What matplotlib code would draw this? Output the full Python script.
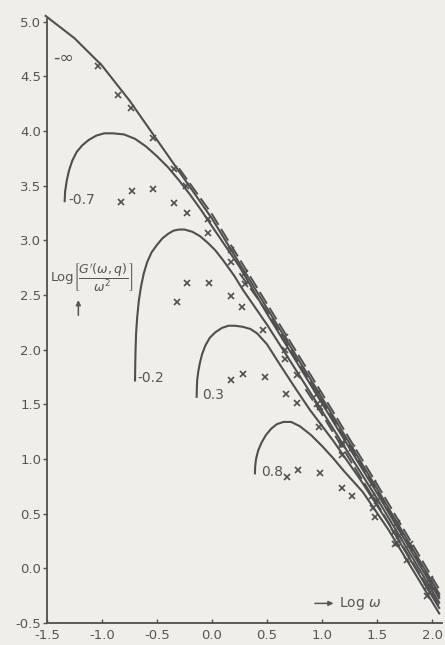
import numpy as np
import matplotlib
matplotlib.use("Agg")
import matplotlib.pyplot as plt

# ---- theoretical curves: Log[G'(w,q)/w^2] vs Log w ----
inf_x = [-1.52, -1.25, -1.0, -0.75, -0.5, -0.25, 0.0, 0.5, 1.0, 1.5, 2.07]
inf_y = [5.06, 4.85, 4.60, 4.28, 3.92, 3.56, 3.20, 2.38, 1.56, 0.73, -0.24]

m07_x = [-1.34, -1.335, -1.32, -1.30, -1.27, -1.23, -1.18, -1.12, -1.05, -0.98, -0.9,
         -0.8, -0.7, -0.6, -0.5, -0.4, -0.3, -0.2, -0.1, 0.0, 0.25, 0.5, 1.0, 1.5, 2.07]
m07_y = [3.35, 3.45, 3.55, 3.64, 3.73, 3.81, 3.87, 3.92, 3.96, 3.98, 3.98,
         3.97, 3.93, 3.86, 3.77, 3.67, 3.55, 3.42, 3.28, 3.13, 2.76, 2.33, 1.51, 0.69, -0.28]

m02_x = [-0.70, -0.698, -0.695, -0.69, -0.68, -0.665, -0.645, -0.62, -0.59, -0.55, -0.5,
         -0.45, -0.4, -0.35, -0.3, -0.25, -0.18, -0.11, -0.04, 0.03, 0.1, 0.2, 0.28,
         0.5, 1.0, 1.5, 2.07]
m02_y = [1.71, 1.85, 2.00, 2.15, 2.30, 2.45, 2.58, 2.70, 2.80, 2.89, 2.96,
         3.02, 3.06, 3.09, 3.10, 3.10, 3.08, 3.04, 2.98, 2.91, 2.82, 2.68, 2.55,
         2.23, 1.44, 0.64, -0.32]

p03_x = [-0.14, -0.138, -0.135, -0.125, -0.11, -0.09, -0.06, -0.02, 0.03, 0.09, 0.15,
         0.21, 0.28, 0.35, 0.41, 0.5, 0.62, 0.75, 0.89, 1.1, 1.35, 1.6, 2.07]
p03_y = [1.56, 1.64, 1.72, 1.80, 1.88, 1.96, 2.04, 2.11, 2.16, 2.20, 2.22,
         2.22, 2.21, 2.19, 2.15, 2.05, 1.86, 1.66, 1.45, 1.17, 0.81, 0.42, -0.37]

p08_x = [0.39, 0.392, 0.40, 0.42, 0.45, 0.49, 0.54, 0.59, 0.65, 0.72, 0.8,
         0.9, 1.0, 1.1, 1.2, 1.37, 1.6, 2.07]
p08_y = [0.86, 0.93, 1.00, 1.08, 1.15, 1.22, 1.28, 1.32, 1.34, 1.34, 1.30,
         1.22, 1.12, 1.01, 0.89, 0.70, 0.36, -0.42]

# ---- broken (dashed) curves in the high-frequency bundle ----
dashA_x = [-0.30, 0.0, 0.5, 1.0, 1.5, 2.07]
dashA_y = [3.66, 3.24, 2.42, 1.60, 0.77, -0.20]
dashB_x = [0.25, 0.5, 1.0, 1.5, 2.07]
dashB_y = [2.70, 2.35, 1.53, 0.71, -0.26]
dashC_x = [0.85, 1.0, 1.5, 2.07]
dashC_y = [1.64, 1.41, 0.59, -0.35]

# ---- measured points (crosses) ----
xinf_x = [-1.04, -0.85, -0.74, -0.54, -0.35, -0.24, -0.04, 0.17, 0.30, 0.66, 0.95, 1.27, 1.46, 1.68, 1.80, 1.98]
xinf_y = [4.60, 4.33, 4.21, 3.94, 3.65, 3.50, 3.20, 2.91, 2.70, 2.12, 1.60, 1.10, 0.78, 0.42, 0.22, -0.10]

xm07_x = [-0.83, -0.73, -0.54, -0.35, -0.23, -0.04, 0.17, 0.30, 0.66, 0.98, 1.18, 1.50, 1.70, 1.98]
xm07_y = [3.35, 3.45, 3.47, 3.34, 3.25, 3.07, 2.80, 2.60, 2.00, 1.48, 1.15, 0.62, 0.30, -0.16]

xm02_x = [-0.32, -0.23, -0.03, 0.17, 0.27, 0.46, 0.66, 0.77, 0.95, 1.18, 1.45, 1.65, 1.95]
xm02_y = [2.44, 2.61, 2.61, 2.49, 2.39, 2.18, 1.92, 1.77, 1.50, 1.13, 0.66, 0.33, -0.17]

xp03_x = [0.17, 0.28, 0.48, 0.67, 0.77, 0.97, 1.18, 1.46, 1.66, 1.95]
xp03_y = [1.72, 1.78, 1.75, 1.60, 1.51, 1.29, 1.04, 0.55, 0.22, -0.25]

xp08_x = [0.68, 0.78, 0.98, 1.18, 1.27, 1.48, 1.68, 1.77, 1.98]
xp08_y = [0.84, 0.90, 0.87, 0.74, 0.66, 0.47, 0.23, 0.08, -0.22]

curve_labels = ["-∞", "-0.7", "-0.2", "0.3", "0.8"]
label_pos_x = [-1.44, -1.31, -0.68, -0.09, 0.45]
label_pos_y = [4.67, 3.37, 1.74, 1.59, 0.88]
label_sizes = [12.5, 10, 10, 10, 10]

xticks = [-1.5, -1.0, -0.5, 0.0, 0.5, 1.0, 1.5, 2.0]
xtick_labels = ["-1.5", "-1.0", "-0.5", "0.0", "0.5", "1.0", "1.5", "2.0"]
yticks = [-0.5, 0.0, 0.5, 1.0, 1.5, 2.0, 2.5, 3.0, 3.5, 4.0, 4.5, 5.0]
ytick_labels = ["-0.5", "0.0", "0.5", "1.0", "1.5", "2.0", "2.5", "3.0", "3.5", "4.0", "4.5", "5.0"]

paper = "#f0eee9"
ink = "#4f4f4f"
txt = "#555555"

fig = plt.figure(figsize=(4.45, 6.45), dpi=100, facecolor=paper)
ax = fig.add_axes([0.1056, 0.034, 0.8875, 0.944], facecolor=paper)
ax.set_xlim(-1.5, 2.09)
ax.set_ylim(-0.5, 5.07)

lw = 1.5
for cx, cy in [(inf_x, inf_y), (m07_x, m07_y), (m02_x, m02_y), (p03_x, p03_y), (p08_x, p08_y)]:
    ax.plot(cx, cy, color=ink, lw=lw, solid_capstyle="butt", clip_on=False)

for cx, cy in [(dashA_x, dashA_y), (dashB_x, dashB_y), (dashC_x, dashC_y)]:
    ax.plot(cx, cy, color=ink, lw=1.4, dashes=(7, 2.5), clip_on=False)

for px, py in [(xinf_x, xinf_y), (xm07_x, xm07_y), (xm02_x, xm02_y), (xp03_x, xp03_y), (xp08_x, xp08_y)]:
    ax.plot(px, py, ls="none", marker="x", ms=4.5, mew=1.2, color=ink, clip_on=False)

for s, lx, ly, fs in zip(curve_labels, label_pos_x, label_pos_y, label_sizes):
    ax.text(lx, ly, s, fontsize=fs, color=txt, ha="left", va="center")

# y-axis quantity with upward arrow
ax.text(-1.468, 2.66, "Log", fontsize=9.5, color=txt, ha="left", va="center")
ax.text(-1.262, 2.66, r"$\left[\dfrac{G'(\omega,q)}{\omega^2}\right]$",
        fontsize=9, color=txt, ha="left", va="center")
ax.annotate("", xy=(-1.215, 2.48), xytext=(-1.215, 2.29),
            arrowprops=dict(arrowstyle="-|>", color=txt, lw=1.1, mutation_scale=7))

# x-axis quantity with rightward arrow
ax.annotate("", xy=(1.13, -0.32), xytext=(0.91, -0.32),
            arrowprops=dict(arrowstyle="-|>", color=txt, lw=1.1, mutation_scale=7))
ax.text(1.15, -0.32, r"Log $\omega$", fontsize=10, color=txt, ha="left", va="center")

for side in ("top", "right"):
    ax.spines[side].set_visible(False)
for side in ("left", "bottom"):
    ax.spines[side].set_color(ink)
    ax.spines[side].set_linewidth(1.3)
ax.spines["left"].set_bounds(-0.5, 5.03)

ax.set_xticks(xticks)
ax.set_xticklabels(xtick_labels)
ax.set_yticks(yticks)
ax.set_yticklabels(ytick_labels)
ax.tick_params(axis="x", direction="in", length=3, width=1, colors=ink, labelcolor=txt,
               labelsize=9.5, pad=4)
ax.tick_params(axis="y", direction="out", length=3, width=1, colors=ink, labelcolor=txt,
               labelsize=9.5, pad=1)

fig.savefig("out.png", dpi=100, facecolor=paper)
